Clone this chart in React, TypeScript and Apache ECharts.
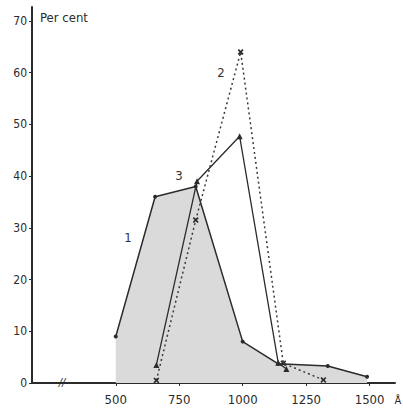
import React, { useEffect, useRef } from "react";
import * as echarts from "echarts";

const xTicks = [500, 750, 1000, 1250, 1500];
const yTicks = [0, 10, 20, 30, 40, 50, 60, 70];

const series1: [number, number][] = [
  [500, 9],
  [655, 36],
  [815, 38],
  [1000, 8],
  [1140, 3.7],
  [1335, 3.3],
  [1490, 1.2],
];
const series2: [number, number][] = [
  [660, 0.5],
  [815, 31.5],
  [992, 64],
  [1160, 3.8],
  [1318, 0.6],
];
const series3: [number, number][] = [
  [660, 3.5],
  [820, 39],
  [988, 47.7],
  [1140, 3.9],
  [1172, 2.7],
];

const FONT = "'DejaVu Sans Condensed', 'DejaVu Sans', sans-serif";
const INK = "#2b2b2b";
const crossPath =
  "path://M2,0 L5,3 L8,0 L10,2 L7,5 L10,8 L8,10 L5,7 L2,10 L0,8 L3,5 L0,2 Z";

export default function App() {
  const ref = useRef<HTMLDivElement>(null);
  useEffect(() => {
    if (!ref.current) return;
    document.body.style.margin = "0";
    const chart = echarts.init(ref.current, undefined, { renderer: "svg" });
    chart.setOption({
      animation: false,
      backgroundColor: "#ffffff",
      grid: { left: 32, right: 8, top: 7, bottom: 26 },
      xAxis: {
        type: "value",
        min: 170,
        max: 1600,
        splitLine: { show: false },
        axisLine: { show: true, onZero: false, lineStyle: { color: INK, width: 2 } },
        axisTick: { show: true, length: 3, customValues: xTicks, lineStyle: { color: INK } },
        axisLabel: {
          customValues: xTicks,
          formatter: (v: number) => String(v),
          color: INK,
          fontFamily: FONT,
          fontSize: 13,
          margin: 10,
        },
      },
      yAxis: {
        type: "value",
        min: 0,
        max: 72.7,
        splitLine: { show: false },
        axisLine: { show: true, lineStyle: { color: INK, width: 2 } },
        axisTick: { show: true, length: 3, customValues: yTicks, lineStyle: { color: INK } },
        axisLabel: {
          customValues: yTicks,
          formatter: (v: number) => String(v),
          color: INK,
          fontFamily: FONT,
          fontSize: 12,
          margin: 5,
        },
      },
      series: [
        {
          type: "line",
          data: series1,
          symbol: "circle",
          symbolSize: 4,
          itemStyle: { color: INK },
          lineStyle: { color: INK, width: 1.5 },
          areaStyle: { color: "#dadada", opacity: 1 },
          z: 2,
        },
        {
          type: "line",
          data: series3,
          symbol: "triangle",
          symbolSize: 6,
          itemStyle: { color: INK },
          lineStyle: { color: INK, width: 1.3 },
          z: 3,
        },
        {
          type: "line",
          data: series2,
          symbol: crossPath,
          symbolSize: 6,
          itemStyle: { color: INK },
          lineStyle: { color: "#3a3a3a", width: 1.5, type: [2, 3] },
          z: 4,
        },
      ],
      graphic: [
        {
          type: "text",
          left: 40,
          top: 11,
          style: { text: "Per cent", fill: INK, font: `13px ${FONT}` },
        },
        {
          type: "text",
          x: 128,
          y: 237,
          style: { text: "1", fill: "#333", font: `13px ${FONT}`, align: "center", verticalAlign: "middle" },
        },
        {
          type: "text",
          x: 221,
          y: 72,
          style: { text: "2", fill: "#333", font: `13px ${FONT}`, align: "center", verticalAlign: "middle" },
        },
        {
          type: "text",
          x: 179,
          y: 175,
          style: { text: "3", fill: "#333", font: `13px ${FONT}`, align: "center", verticalAlign: "middle" },
        },
        {
          type: "text",
          x: 62,
          y: 382,
          style: { text: "//", fill: INK, font: `italic 11px ${FONT}`, align: "center", verticalAlign: "middle" },
        },
        {
          type: "text",
          x: 398,
          y: 400,
          style: { text: "Å", fill: INK, font: `11px ${FONT}`, align: "center", verticalAlign: "middle" },
        },
      ],
    });
    return () => chart.dispose();
  }, []);
  return <div ref={ref} style={{ width: 403, height: 409 }} />;
}
